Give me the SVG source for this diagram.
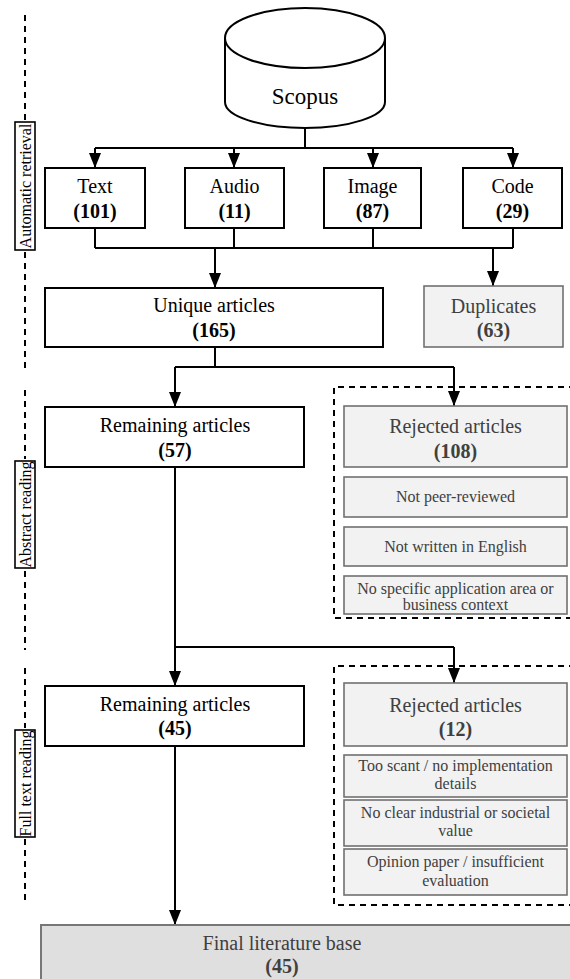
<svg xmlns="http://www.w3.org/2000/svg" width="570" height="979" viewBox="0 0 570 979" font-family="Liberation Serif, Times New Roman, serif">
<style>
text{text-anchor:middle;fill:#000}
.m{font-size:20px}
.b{font-weight:bold}
.s{font-size:16px}
.g{fill:#404040}
.box{fill:#fff;stroke:#000;stroke-width:2}
.gbox{fill:#f2f2f2;stroke:#707070;stroke-width:1.6}
.fbox{fill:#dfdfdf;stroke:#777;stroke-width:2}
.lbl{fill:#fff;stroke:#000;stroke-width:1.6}
.c{fill:none;stroke:#000;stroke-width:2}
.a{fill:none;stroke:#000;stroke-width:2;marker-end:url(#ah)}
.d{fill:none;stroke:#000;stroke-width:2;stroke-dasharray:6 5}
</style>
<defs>
<marker id="ah" markerUnits="userSpaceOnUse" markerWidth="15" markerHeight="12" refX="15" refY="6" orient="auto">
<path d="M0,0 L15,6 L0,12 Z" fill="#000"/>
</marker>
</defs>
<rect width="570" height="979" fill="#fff"/>

<g id="phases">
<path class="d" d="M25,15 V120 M25,252 V372 M25,390 V459 M25,571 V650 M25,668 V728 M25,839 V905"/>
<rect class="lbl" x="15" y="122" width="20" height="128"/>
<text class="s" font-family="Liberation Serif, serif" transform="translate(25,186) rotate(-90)" y="5.5">Automatic retrieval</text>
<rect class="lbl" x="15" y="461" width="20" height="107"/>
<text class="s" font-family="Liberation Serif, serif" transform="translate(25,514.5) rotate(-90)" y="5.5">Abstract reading</text>
<rect class="lbl" x="15" y="730" width="20" height="107"/>
<text class="s" font-family="Liberation Serif, serif" transform="translate(25,783.5) rotate(-90)" y="5.5">Full text reading</text>
</g>

<g id="groups">
<path class="d" d="M575,387 H334 V618 H575"/>
<path class="d" d="M575,666 H334 V905 H575"/>
</g>

<g id="connectors">
<path class="c" d="M305,128 V148 M95,148 H513"/>
<path class="a" d="M95,148 V168"/>
<path class="a" d="M234,148 V168"/>
<path class="a" d="M373,148 V168"/>
<path class="a" d="M513,148 V168"/>
<path class="c" d="M95,228 V248 M234,228 V248 M373,228 V248 M513,228 V248 M95,248 H513"/>
<path class="a" d="M215,248 V288"/>
<path class="a" d="M493,248 V286"/>
<path class="c" d="M215,347 V367 M175,367 H454"/>
<path class="a" d="M175,367 V407"/>
<path class="a" d="M454,367 V406"/>
<path class="c" d="M175,467 V647 M175,647 H454"/>
<path class="a" d="M175,647 V686"/>
<path class="a" d="M454,647 V683"/>
<path class="a" d="M175,746 V925"/>
</g>

<g id="scopus">
<path class="box" d="M225,38 V102 A80,26 0 0 0 385,102 V38"/>
<ellipse class="box" cx="305" cy="38" rx="80" ry="30"/>
<text x="305" y="104" font-size="23" font-family="Liberation Serif, serif">Scopus</text>
</g>

<g id="nodes" font-family="Liberation Serif, serif">
<g id="text">
<rect class="box" x="45" y="168" width="100" height="60"/>
<text class="m" x="95" y="193">Text</text>
<text class="m b" x="95" y="218">(101)</text>
</g>
<g id="audio">
<rect class="box" x="185" y="168" width="99" height="60"/>
<text class="m" x="234.5" y="193">Audio</text>
<text class="m b" x="234.5" y="218">(11)</text>
</g>
<g id="image">
<rect class="box" x="324" y="168" width="97" height="60"/>
<text class="m" x="372.5" y="193">Image</text>
<text class="m b" x="372.5" y="218">(87)</text>
</g>
<g id="code">
<rect class="box" x="463" y="168" width="99" height="60"/>
<text class="m" x="512.5" y="193">Code</text>
<text class="m b" x="512.5" y="218">(29)</text>
</g>

<g id="unique">
<rect class="box" x="45" y="288" width="338" height="59"/>
<text class="m" x="214" y="312">Unique articles</text>
<text class="m b" x="214" y="337">(165)</text>
</g>
<g id="duplicates">
<rect class="gbox" x="424" y="286" width="139" height="61"/>
<text class="m g" x="493.5" y="313">Duplicates</text>
<text class="m b g" x="493.5" y="337">(63)</text>
</g>

<g id="remaining57">
<rect class="box" x="45" y="407" width="259" height="60"/>
<text class="m" x="175" y="432">Remaining articles</text>
<text class="m b" x="175" y="457">(57)</text>
</g>
<g id="rejected108">
<rect class="gbox" x="344" y="406" width="223" height="61"/>
<text class="m g" x="455.5" y="433">Rejected articles</text>
<text class="m b g" x="455.5" y="458">(108)</text>
</g>
<g id="r1">
<rect class="gbox" x="344" y="477" width="223" height="40"/>
<text class="s g" x="455.5" y="502">Not peer-reviewed</text>
</g>
<g id="r2">
<rect class="gbox" x="344" y="527" width="223" height="39"/>
<text class="s g" x="455.5" y="552">Not written in English</text>
</g>
<g id="r3">
<rect class="gbox" x="344" y="576" width="223" height="38"/>
<text class="s g" x="455.5" y="594">No specific application area or</text>
<text class="s g" x="455.5" y="610">business context</text>
</g>

<g id="remaining45">
<rect class="box" x="45" y="686" width="259" height="60"/>
<text class="m" x="175" y="711">Remaining articles</text>
<text class="m b" x="175" y="735">(45)</text>
</g>
<g id="rejected12">
<rect class="gbox" x="344" y="683" width="223" height="63"/>
<text class="m g" x="455.5" y="712">Rejected articles</text>
<text class="m b g" x="455.5" y="736">(12)</text>
</g>
<g id="r4">
<rect class="gbox" x="344" y="755" width="223" height="42"/>
<text class="s g" x="455.5" y="771">Too scant / no implementation</text>
<text class="s g" x="455.5" y="789">details</text>
</g>
<g id="r5">
<rect class="gbox" x="344" y="800" width="223" height="46"/>
<text class="s g" x="455.5" y="818">No clear industrial or societal</text>
<text class="s g" x="455.5" y="836">value</text>
</g>
<g id="r6">
<rect class="gbox" x="344" y="849" width="223" height="46"/>
<text class="s g" x="455.5" y="867">Opinion paper / insufficient</text>
<text class="s g" x="455.5" y="886">evaluation</text>
</g>

<g id="final">
<rect class="fbox" x="41" y="925" width="540" height="62"/>
<text class="m g" x="282" y="950">Final literature base</text>
<text class="m b g" x="282" y="973">(45)</text>
</g>
</g>
</svg>
